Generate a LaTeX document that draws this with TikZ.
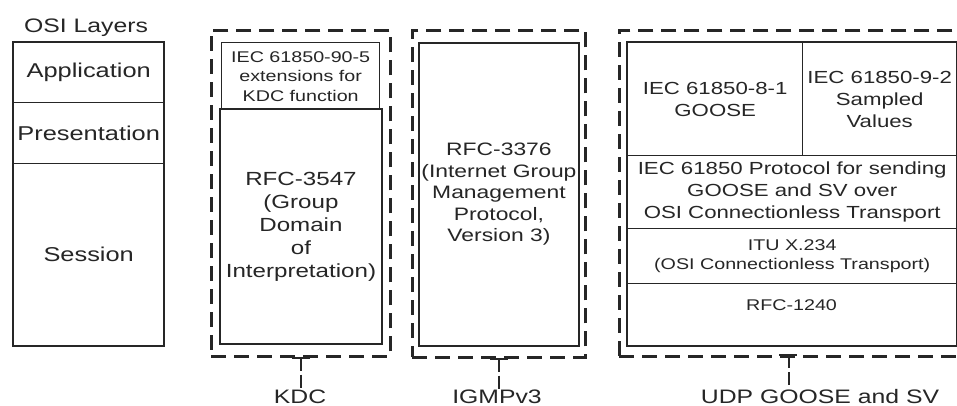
\documentclass[tikz,border=0pt]{standalone}
\usepackage{fontspec}
\setmainfont{Liberation Sans}[FakeStretch=1.27]
\definecolor{inkc}{HTML}{262626}
\begin{document}
\begin{tikzpicture}[x=1pt,y=-1pt,
  cell/.style={draw=inkc, line width=1.4pt, inner sep=0pt, anchor=north west,
               align=center, text=inkc},
  outline/.style={draw=inkc, line width=2pt},
  frame/.style={draw=inkc, line width=2.7pt, dash pattern=on 15pt off 8pt,
                inner sep=0pt, anchor=north west},
  txt/.style={inner sep=0pt, align=center, text=inkc},
  osi/.style={font=\fontsize{20}{24}\selectfont},
  big/.style={font=\fontsize{19}{23}\selectfont},
  mid/.style={font=\fontsize{17.5}{22}\selectfont},
  small/.style={font=\fontsize{15.5}{19.5}\selectfont},
  tag/.style={font=\fontsize{19.5}{22}\selectfont, text=inkc, inner sep=0pt, anchor=base},
  tickbar/.style={draw=inkc, line width=2.4pt},
  tickline/.style={draw=inkc, line width=2.2pt, dash pattern=on 13pt off 4pt},
]
\useasboundingbox (0,0) rectangle (957,406);
\fill[white] (0,0) rectangle (957,406);

% OSI reference column
\node[tag] (osititle) at (86,33) {OSI Layers};
\node[cell, osi, minimum width=150pt, minimum height=60pt]  (app)  at (13,42)  {Application};
\node[cell, osi, minimum width=150pt, minimum height=61pt]  (pres) at (13,102) {Presentation};
\node[cell, osi, minimum width=150pt, minimum height=182pt] (sess) at (13,163) {Session};
\draw[outline] (app.north west) rectangle (sess.south east);

% KDC stack
\node[frame, minimum width=179pt, minimum height=326pt] (kdcf) at (210,29) {};
\node[cell, small, minimum width=158pt, minimum height=67pt] (kdcext) at (221,42)
  {IEC 61850-90-5\\extensions for\\KDC function};
\node[cell, big, minimum width=162pt, minimum height=235pt, line width=1.9pt] (rfc3547) at (219,108)
  {RFC-3547\\(Group\\Domain\\of\\Interpretation)};

% IGMPv3 stack
\node[frame, minimum width=173pt, minimum height=327pt] (igmpf) at (411,29) {};
\node[cell, font=\fontsize{18}{21.5}\selectfont, minimum width=160pt, minimum height=303pt, line width=1.9pt]
  (rfc3376) at (418,42)
  {RFC-3376\\(Internet Group\\Management\\Protocol,\\Version 3)};

% UDP GOOSE and SV stack
\node[frame, minimum width=360pt, minimum height=326pt] (udpf) at (618,29) {};
\node[cell, mid, minimum width=175pt, minimum height=113pt] (goose) at (627,42)
  {IEC 61850-8-1\\GOOSE};
\node[cell, mid, minimum width=154pt, minimum height=113pt] (sv) at (802,42)
  {IEC 61850-9-2\\Sampled\\Values};
\node[cell, mid, minimum width=329pt, minimum height=73pt] (proto) at (627,155)
  {IEC 61850 Protocol for sending\\GOOSE and SV over\\OSI Connectionless Transport};
\node[cell, small, minimum width=329pt, minimum height=55pt] (itu) at (627,228)
  {ITU X.234\\(OSI Connectionless Transport)};
\node[cell, minimum width=329pt, minimum height=62pt] (rfc1240) at (627,283) {};
\node[txt, small] (rfc1240txt) at (791.5,305) {RFC-1240};
\draw[outline] (goose.north west) rectangle (rfc1240.south east);

% Group labels hanging below the frames
\node[tag] (kdc) at (300,403) {KDC};
\draw[tickbar] ([xshift=-9pt]kdcf.south) -- ([xshift=9pt]kdcf.south);
\draw[tickline] (kdcf.south) -- (kdcf.south |- kdc.north);

\node[tag] (igmp) at (497,403) {IGMPv3};
\draw[tickbar] ([xshift=-9pt]igmpf.south) -- ([xshift=9pt]igmpf.south);
\draw[tickline] (igmpf.south) -- (igmpf.south |- igmp.north);

\node[tag] (udp) at (820,403) {UDP GOOSE and SV};
\coordinate (udptop) at (789,355);
\draw[tickbar] ([xshift=-10pt]udptop) -- ([xshift=8pt]udptop);
\draw[tickline] (udptop) -- (udptop |- udp.north);
\end{tikzpicture}
\end{document}
